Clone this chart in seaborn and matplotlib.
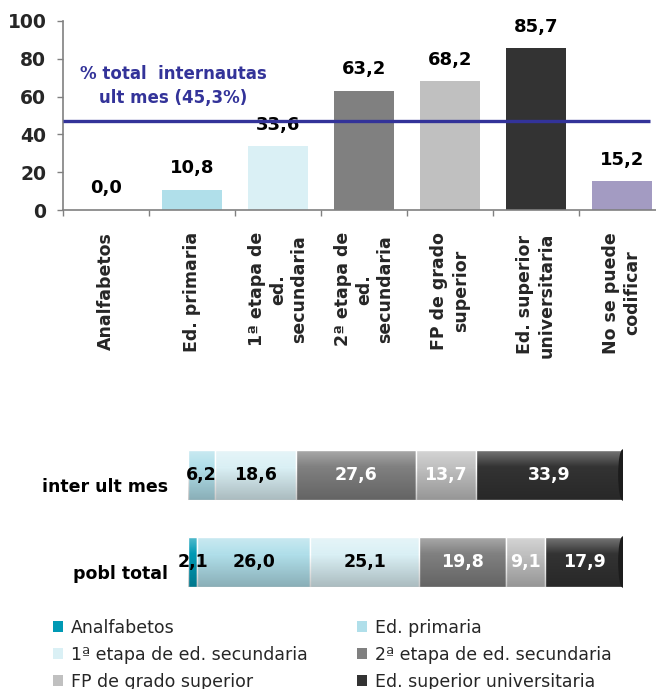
import numpy as np
import pandas as pd
import matplotlib
matplotlib.use("Agg")
import matplotlib.pyplot as plt
from matplotlib.patches import Patch, Ellipse
import seaborn as sns

# datos
niveles = ["Analfabetos", "Ed. primaria", "1ª etapa de ed. secundaria",
           "2ª etapa de ed. secundaria", "FP de grado superior",
           "Ed. superior universitaria", "No se puede codificar"]
etiquetas_x = ["Analfabetos", "Ed. primaria", "1ª etapa de\ned.\nsecundaria",
               "2ª etapa de\ned.\nsecundaria", "FP de grado\nsuperior",
               "Ed. superior\nuniversitaria", "No se puede\ncodificar"]
pct_internautas = [0.0, 10.8, 33.6, 63.2, 68.2, 85.7, 15.2]
media_total = 47.0  # posicion de la linea (rotulo dice 45,3%)

filas = ["inter ult mes", "pobl total"]
inter_ult_mes = [0.0, 6.2, 18.6, 27.6, 13.7, 33.9]
pobl_total = [2.1, 26.0, 25.1, 19.8, 9.1, 17.9]

colores = ["#0099B4", "#B0DFEA", "#DAF0F5", "#808080", "#C0C0C0", "#333333", "#A39BC2"]
azul = "#333399"


def coma(v):
    return f"{v:.1f}".replace(".", ",")


sns.set_theme(style="white")
plt.rcParams["font.family"] = ["DejaVu Sans"]

W, H = 656, 689
fig = plt.figure(figsize=(W / 100, H / 100), dpi=100)

# ---- grafico de barras superior ----
ax1 = fig.add_axes([63 / W, 1 - 210 / H, 602 / W, 189 / H])
df = pd.DataFrame({"nivel": niveles, "pct": pct_internautas})
sns.barplot(data=df, x="nivel", y="pct", hue="nivel", palette=colores,
            order=niveles, hue_order=niveles, width=0.7, legend=False,
            saturation=1, linewidth=0, edgecolor="none", ax=ax1)
for cont in ax1.containers:
    ax1.bar_label(cont, labels=[coma(b.get_height()) for b in cont],
                  padding=9, fontsize=13, fontweight="bold", color="black")

ax1.set_xlim(-0.5, 6.5)
ax1.set_ylim(0, 100)
ax1.set_yticks([0, 20, 40, 60, 80, 100])
ax1.set_yticklabels(["0", "20", "40", "60", "80", "100"],
                    fontsize=13.5, fontweight="bold")
ax1.set_xticks(range(len(etiquetas_x)))
ax1.set_xticklabels(etiquetas_x, rotation=90, fontsize=12.5, fontweight="bold",
                    ha="center", va="top", multialignment="center",
                    linespacing=1.25)
ax1.set_xticks(np.arange(-0.5, 7, 1), minor=True)
ax1.tick_params(axis="x", which="major", length=0, pad=16)
ax1.tick_params(axis="x", which="minor", length=4, width=1, color="#808080",
                bottom=True)
ax1.tick_params(axis="y", length=4, width=1, color="#808080", left=True, pad=8)
ax1.set_xlabel("")
ax1.set_ylabel("")
for s in ["top", "right"]:
    ax1.spines[s].set_visible(False)
for s in ["left", "bottom"]:
    ax1.spines[s].set_color("#808080")
    ax1.spines[s].set_linewidth(1.2)

ax1.hlines(media_total, -0.5, 6.33, color=azul, lw=2.4, zorder=5)
ax1.text(0.78, 65.6, "% total  internautas\nult mes (45,3%)", color=azul,
         fontsize=12, fontweight="bold", ha="center", va="center",
         linespacing=1.45)

# ---- barras apiladas inferiores ----
ax2 = fig.add_axes([188 / W, 1 - 605.5 / H, 435 / W, 174 / H])
ax2.set_xlim(0, 100)
ax2.set_ylim(1.5, -0.5)
ax2.axis("off")
alto = 0.575

grad = np.zeros((60, 1, 4))
t = np.linspace(0, 1, 60)
grad[:, 0, :3] = np.where(t[:, None] < 0.35, 1.0, 0.0)
grad[:, 0, 3] = np.where(t < 0.35, 0.35 * (1 - t / 0.35), 0.22 * (t - 0.35) / 0.65)

for i, vals in enumerate([inter_ult_mes, pobl_total]):
    izq = 0.0
    for j, v in enumerate(vals):
        if v > 0:
            ax2.barh(i, v, left=izq, height=alto, color=colores[j], zorder=2)
            col_txt = "black" if j < 3 else "white"
            ax2.text(izq + v / 2, i, coma(v), ha="center", va="center",
                     fontsize=12.5, fontweight="bold", color=col_txt, zorder=6)
        izq += v
    ax2.imshow(grad, extent=(0, 100, i + alto / 2, i - alto / 2),
               aspect="auto", zorder=3, interpolation="bilinear")
    ax2.add_patch(Ellipse((100, i), 1.9, alto, color="#1c1c1c", zorder=4))
    ax2.text(-4.6, i + 0.14, filas[i], ha="right", va="center",
             fontsize=12.5, fontweight="bold", color="black")

# ---- leyenda en dos columnas ----
handles = [Patch(facecolor=c, edgecolor="none") for c in colores[:6]]
opts = dict(loc="upper left", frameon=False, borderpad=0, borderaxespad=0,
            handlelength=0.6, handleheight=0.6, handletextpad=0.45,
            labelspacing=0.51, fontsize=12.5)
fig.legend([handles[k] for k in (0, 2, 4)], [niveles[k] for k in (0, 2, 4)],
           bbox_to_anchor=(53 / W, 1 - 619 / H), **opts)
fig.legend([handles[k] for k in (1, 3, 5)], [niveles[k] for k in (1, 3, 5)],
           bbox_to_anchor=(357 / W, 1 - 619 / H), **opts)

fig.savefig("out.png", dpi=100)
